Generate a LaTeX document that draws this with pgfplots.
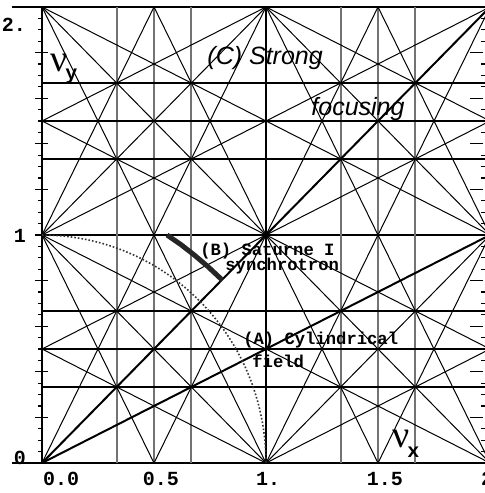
\documentclass[border=0pt]{standalone}
\usepackage{pgfplots}
\pgfplotsset{compat=1.18}
\usepackage{fontspec}
\setmainfont{Liberation Sans}
\newfontfamily\cour{Liberation Mono}
\newfontfamily\tms{Liberation Serif}
\definecolor{vgrey}{RGB}{115,115,115}
\begin{document}
\begin{tikzpicture}
\useasboundingbox (-21pt,-15pt) rectangle (221pt,231.5pt);
\begin{axis}[
  at={(0,0)}, anchor=south west,
  scale only axis, width=224pt, height=228pt,
  xmin=0, xmax=2, ymin=0, ymax=2,
  clip=false,
  axis line style={line width=0.6pt},
  tick align=inside,
  tick style={black, line width=0.6pt},
  xtick=\empty,
  minor xtick={0,0.1,...,2.01},
  ytick={0,0.2,0.4,0.6,0.8,1,1.2,1.4,1.6,1.8,2},
  yticklabels={},
  minor y tick num=3,
  major tick length=6.5pt,
  minor tick length=2.5pt,
  every major y tick/.append style={xshift=-3.5pt},
  every minor y tick/.append style={xshift=-2pt},
  extra x ticks={0.085,0.531,1.009,1.531,1.987},
  extra x tick labels={0.0,0.5,1.,1.5,2},
  extra x tick style={major tick length=0pt, xticklabel style={font=\cour\bfseries\fontsize{10}{12}\selectfont, yshift=-1pt}},
  extra y ticks={0.022,0.996,1.921},
  extra y tick labels={0,1,2.},
  extra y tick style={major tick length=0pt, every major y tick/.style={draw=none}, yticklabel style={font=\cour\bfseries\fontsize{10}{12}\selectfont, xshift=-4.5pt}},
]
% order 1
\addplot[black, line width=1pt] coordinates {(0,0) (0,2)};
\addplot[black, line width=1pt] coordinates {(0,0) (2,0)};
\addplot[black, line width=1pt] coordinates {(1,0) (1,2)};
\addplot[black, line width=1pt] coordinates {(0,1) (2,1)};
% vertical lines (grey)
\addplot[vgrey, line width=1pt] coordinates {(0.3333,0) (0.3333,2)};
\addplot[vgrey, line width=1pt] coordinates {(0.5,0) (0.5,2)};
\addplot[vgrey, line width=1pt] coordinates {(0.6667,0) (0.6667,2)};
\addplot[vgrey, line width=1pt] coordinates {(1.3333,0) (1.3333,2)};
\addplot[vgrey, line width=1pt] coordinates {(1.5,0) (1.5,2)};
\addplot[vgrey, line width=1pt] coordinates {(1.6667,0) (1.6667,2)};
% horizontal lines
\addplot[black, line width=0.6pt] coordinates {(0,0.3333) (2,0.3333)};
\addplot[black, line width=0.6pt] coordinates {(0,0.5) (2,0.5)};
\addplot[black, line width=0.6pt] coordinates {(0,0.6667) (2,0.6667)};
\addplot[black, line width=0.6pt] coordinates {(0,1.3333) (2,1.3333)};
\addplot[black, line width=0.6pt] coordinates {(0,1.5) (2,1.5)};
\addplot[black, line width=0.6pt] coordinates {(0,1.6667) (2,1.6667)};
% x - y = c
\addplot[black, line width=1pt] coordinates {(0,0) (2,2)};
\addplot[black, line width=0.5pt] coordinates {(1,0) (2,1)};
\addplot[black, line width=0.5pt] coordinates {(0,1) (1,2)};
% x + y = c
\addplot[black, line width=0.5pt] coordinates {(0,1) (1,0)};
\addplot[black, line width=0.5pt] coordinates {(0,2) (2,0)};
\addplot[black, line width=0.5pt] coordinates {(1,2) (2,1)};
% 2x + y = p
\addplot[black, line width=0.5pt] coordinates {(0,1) (0.5,0)};
\addplot[black, line width=0.5pt] coordinates {(0,2) (1,0)};
\addplot[black, line width=0.5pt] coordinates {(0.5,2) (1.5,0)};
\addplot[black, line width=0.5pt] coordinates {(1,2) (2,0)};
\addplot[black, line width=0.5pt] coordinates {(1.5,2) (2,1)};
% x + 2y = p
\addplot[black, line width=0.5pt] coordinates {(0,0.5) (1,0)};
\addplot[black, line width=0.5pt] coordinates {(0,1) (2,0)};
\addplot[black, line width=0.5pt] coordinates {(0,1.5) (2,0.5)};
\addplot[black, line width=0.5pt] coordinates {(0,2) (2,1)};
\addplot[black, line width=0.5pt] coordinates {(1,2) (2,1.5)};
% 2x - y = p
\addplot[black, line width=0.5pt] coordinates {(0,0) (1,2)};
\addplot[black, line width=0.5pt] coordinates {(0.5,0) (1.5,2)};
\addplot[black, line width=0.5pt] coordinates {(1,0) (2,2)};
\addplot[black, line width=0.5pt] coordinates {(1.5,0) (2,1)};
\addplot[black, line width=0.5pt] coordinates {(0,1) (0.5,2)};
% x - 2y = p
\addplot[black, line width=1pt] coordinates {(0,0) (2,1)};
\addplot[black, line width=0.5pt] coordinates {(1,0) (2,0.5)};
\addplot[black, line width=0.5pt] coordinates {(0,0.5) (2,1.5)};
\addplot[black, line width=0.5pt] coordinates {(0,1) (2,2)};
\addplot[black, line width=0.5pt] coordinates {(0,1.5) (1,2)};
% (A) cylindrical field
\addplot[black!80, densely dotted, line width=0.8pt, smooth] coordinates {
(0,1) (0.0872,0.9962) (0.1736,0.9848) (0.2588,0.9659) (0.3420,0.9397)
(0.4226,0.9063) (0.5,0.8660) (0.5736,0.8192) (0.6428,0.7660) (0.7071,0.7071)
(0.7660,0.6428) (0.8192,0.5736) (0.8660,0.5) (0.9063,0.4226) (0.9397,0.3420)
(0.9659,0.2588) (0.9848,0.1736) (0.9962,0.0872) (1,0)};
% (B) Saturne I
\addplot[black!85, line width=2.5pt] coordinates {(0.558,1.0) (0.62,0.958) (0.68,0.912) (0.74,0.862) (0.804,0.803)};
% frame extensions
\draw[line width=1pt] (axis cs:-0.134,0) -- (axis cs:0,0);
\draw[line width=0.6pt] (axis cs:-0.134,2) -- (axis cs:0,2);
% labels
\node[anchor=base west, font=\itshape\fontsize{12.5}{14}\selectfont, inner sep=0pt] at (axis cs:0.737,1.746) {(C) Strong};
\node[anchor=base west, font=\itshape\fontsize{12.5}{14}\selectfont, inner sep=0pt] at (axis cs:1.201,1.526) {focusing};
\node[anchor=base west, font=\cour\bfseries\fontsize{8.6}{10}\selectfont, inner sep=0pt] at (axis cs:0.705,0.912) {(B) Saturne I};
\node[anchor=base west, font=\cour\bfseries\fontsize{8.6}{10}\selectfont, inner sep=0pt] at (axis cs:0.817,0.846) {synchrotron};
\node[anchor=base west, font=\cour\bfseries\fontsize{8.6}{10}\selectfont, inner sep=0pt] at (axis cs:0.897,0.518) {(A) Cylindrical};
\node[anchor=base west, font=\cour\bfseries\fontsize{8.6}{10}\selectfont, inner sep=0pt] at (axis cs:0.9375,0.417) {field};
\node[anchor=base west, font=\tms\fontsize{19}{22}\selectfont, inner sep=0pt] at (axis cs:0.036,1.715) {ν};
\node[anchor=base west, font=\cour\bfseries\fontsize{10}{12}\selectfont, inner sep=0pt] at (axis cs:0.103,1.680) {y};
\node[anchor=base west, font=\tms\fontsize{19}{22}\selectfont, inner sep=0pt] at (axis cs:1.5625,0.070) {ν};
\node[anchor=base west, font=\cour\bfseries\fontsize{10}{12}\selectfont, inner sep=0pt] at (axis cs:1.629,0.026) {x};
\end{axis}
\end{tikzpicture}
\end{document}
